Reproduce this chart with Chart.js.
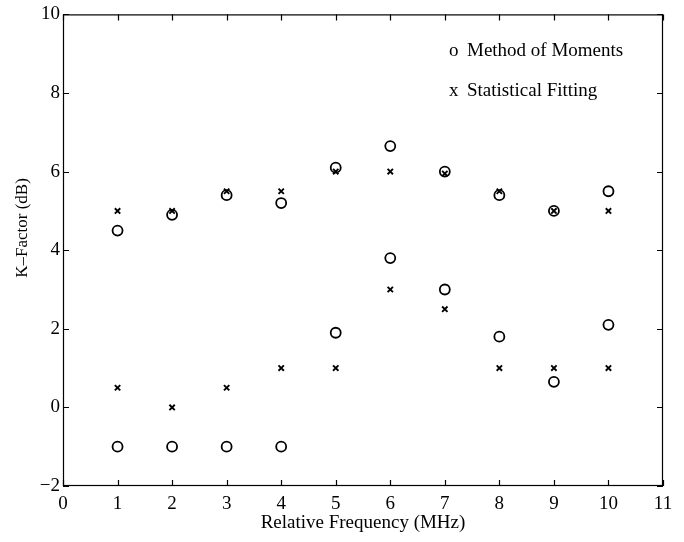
<!DOCTYPE html>
<html>
<head>
<meta charset="utf-8">
<script src="https://cdn.jsdelivr.net/npm/chart.js@4.4.1/dist/chart.umd.min.js"></script>
<style>
  html, body { margin: 0; padding: 0; background: #fff; }
  #wrap { width: 684px; height: 542px; }
</style>
</head>
<body>
<div id="wrap"><canvas id="c" width="684" height="542"></canvas></div>
<script>
// Data
const frequencies = [1, 2, 3, 4, 5, 6, 7, 8, 9, 10];
const momUpper = [4.5, 4.9, 5.4, 5.2, 6.1, 6.65, 6.0, 5.4, 5.0, 5.5];
const momLower = [-1, -1, -1, -1, 1.9, 3.8, 3.0, 1.8, 0.65, 2.1];
const sfUpper = [5.0, 5.0, 5.5, 5.5, 6.0, 6.0, 5.95, 5.5, 5.0, 5.0];
const sfLower = [0.5, 0, 0.5, 1.0, 1.0, 3.0, 2.5, 1.0, 1.0, 1.0];
const legendLabels = ["Method of Moments", "Statistical Fitting"];
const xTitle = "Relative Frequency (MHz)";
const yTitle = "K\u2013Factor (dB)";

const FONT = "'Liberation Serif', 'Times New Roman', serif";

function pts(xs, ys) { return xs.map((x, i) => ({ x: x, y: ys[i] })); }

const frameAndTicks = {
  id: 'frameAndTicks',
  afterDraw(chart) {
    const { ctx, chartArea: a, scales } = chart;
    ctx.save();
    ctx.strokeStyle = '#000';
    ctx.lineWidth = 1.2;
    ctx.strokeRect(a.left + 0.5, a.top + 0.5, a.right - a.left - 1, a.bottom - a.top - 1);
    const tl = 6;
    ctx.beginPath();
    scales.x.ticks.forEach(t => {
      const px = Math.round(scales.x.getPixelForValue(t.value)) + 0.5;
      ctx.moveTo(px, a.bottom); ctx.lineTo(px, a.bottom - tl);
      ctx.moveTo(px, a.top); ctx.lineTo(px, a.top + tl);
    });
    scales.y.ticks.forEach(t => {
      const py = Math.round(scales.y.getPixelForValue(t.value)) + 0.5;
      ctx.moveTo(a.left, py); ctx.lineTo(a.left + tl, py);
      ctx.moveTo(a.right, py); ctx.lineTo(a.right - tl, py);
    });
    ctx.stroke();
    // legend
    ctx.fillStyle = '#000';
    ctx.font = '19px ' + FONT;
    ctx.textBaseline = 'middle';
    ctx.textAlign = 'left';
    ctx.fillText('o', 449, 51);
    ctx.fillText(legendLabels[0], 467, 51);
    ctx.fillText('x', 449, 91);
    ctx.fillText(legendLabels[1], 467, 91);
    // y-axis title
    ctx.translate(23, 228);
    ctx.rotate(-Math.PI / 2);
    ctx.textAlign = 'center';
    ctx.font = '17px ' + FONT;
    ctx.fillText(yTitle, 0, 0);
    ctx.restore();
  }
};

const circleStyle = {
  pointStyle: 'circle', pointRadius: 5, pointHoverRadius: 5,
  borderColor: '#000', backgroundColor: 'rgba(0,0,0,0)', pointBorderWidth: 1.8,
  showLine: false
};
const crossStyle = {
  pointStyle: 'crossRot', pointRadius: 3.8, pointHoverRadius: 3.8,
  borderColor: '#000', backgroundColor: '#000', pointBorderWidth: 1.9,
  showLine: false
};

new Chart(document.getElementById('c'), {
  type: 'scatter',
  data: {
    datasets: [
      Object.assign({ label: legendLabels[0], data: pts(frequencies, momUpper) }, circleStyle),
      Object.assign({ label: legendLabels[0] + ' 2', data: pts(frequencies, momLower) }, circleStyle),
      Object.assign({ label: legendLabels[1], data: pts(frequencies, sfUpper) }, crossStyle),
      Object.assign({ label: legendLabels[1] + ' 2', data: pts(frequencies, sfLower) }, crossStyle)
    ]
  },
  options: {
    responsive: false,
    animation: false,
    layout: { padding: { left: 0, right: 21, top: 10, bottom: 0 } },
    plugins: { legend: { display: false }, tooltip: { enabled: false } },
    scales: {
      x: {
        type: 'linear', min: 0, max: 11,
        ticks: { stepSize: 1, color: '#000', font: { family: FONT, size: 19 }, padding: 7, maxRotation: 0 },
        grid: { display: true, drawOnChartArea: false, drawTicks: false, color: 'rgba(0,0,0,0)' },
        border: { display: false },
        title: { display: true, text: xTitle, color: '#000', font: { family: FONT, size: 19 }, padding: { top: 0, bottom: 8 } },
        afterFit(s) { s.height = 56; }
      },
      y: {
        type: 'linear', min: -2, max: 10,
        ticks: { stepSize: 2, color: '#000', font: { family: FONT, size: 19 }, padding: 3,
          callback: v => String(v).replace('-', '\u2212') },
        grid: { display: true, drawOnChartArea: false, drawTicks: false, color: 'rgba(0,0,0,0)' },
        border: { display: false },
        title: { display: false },
        afterFit(s) { s.width = 63; }
      }
    }
  },
  plugins: [frameAndTicks]
});
</script>
</body>
</html>
